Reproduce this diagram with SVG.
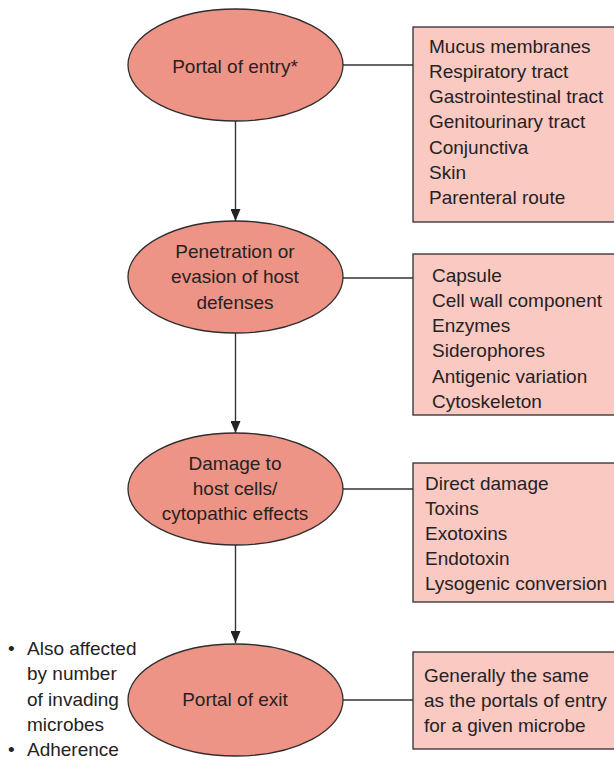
<svg xmlns="http://www.w3.org/2000/svg" width="614" height="760" viewBox="0 0 614 760">
<style>
  .ell { fill: #ee9486; stroke: #2e2e2e; stroke-width: 1.3; }
  .box { fill: #f9c9c2; stroke: #2e2e2e; stroke-width: 1.3; }
  .conn { stroke: #333; stroke-width: 1.4; fill: none; }
  text { font-family: "Liberation Sans", Arial, sans-serif; font-size: 19px; fill: #262223; }
  .c { text-anchor: middle; }
</style>
<defs>
  <marker id="arr" markerWidth="12" markerHeight="10" refX="12" refY="5" orient="auto" markerUnits="userSpaceOnUse">
    <path d="M0,0 L12,5 L0,10 Z" fill="#222"/>
  </marker>
</defs>
<rect width="614" height="760" fill="#ffffff"/>
<g id="connectors">
  <line class="conn" x1="235.5" y1="121" x2="235.5" y2="221" marker-end="url(#arr)"/>
  <line class="conn" x1="235.5" y1="333" x2="235.5" y2="433" marker-end="url(#arr)"/>
  <line class="conn" x1="235.5" y1="545" x2="235.5" y2="643" marker-end="url(#arr)"/>
  <line class="conn" x1="343" y1="65" x2="413" y2="65"/>
  <line class="conn" x1="343" y1="278" x2="413" y2="278"/>
  <line class="conn" x1="343" y1="489" x2="413" y2="489"/>
  <line class="conn" x1="343" y1="700" x2="413" y2="700"/>
</g>
<g id="portal-entry">
  <ellipse class="ell" cx="235.5" cy="65" rx="107.5" ry="56"/>
  <text class="c" x="235" y="73">Portal of entry*</text>
</g>
<g id="entry-list">
  <rect class="box" x="413" y="27" width="210" height="195"/>
  <text x="429" y="53">Mucus membranes</text>
  <text x="429" y="78">Respiratory tract</text>
  <text x="429" y="103">Gastrointestinal tract</text>
  <text x="429" y="128">Genitourinary tract</text>
  <text x="429" y="154">Conjunctiva</text>
  <text x="429" y="179">Skin</text>
  <text x="429" y="204">Parenteral route</text>
</g>
<g id="penetration">
  <ellipse class="ell" cx="235.5" cy="277" rx="107.5" ry="56"/>
  <text class="c" x="235" y="258">Penetration or</text>
  <text class="c" x="235" y="283">evasion of host</text>
  <text class="c" x="235" y="309">defenses</text>
</g>
<g id="penetration-list">
  <rect class="box" x="413" y="254" width="210" height="161"/>
  <text x="432" y="282">Capsule</text>
  <text x="432" y="307">Cell wall component</text>
  <text x="432" y="332">Enzymes</text>
  <text x="432" y="357">Siderophores</text>
  <text x="432" y="383">Antigenic variation</text>
  <text x="432" y="408">Cytoskeleton</text>
</g>
<g id="damage">
  <ellipse class="ell" cx="235.5" cy="489" rx="107.5" ry="56"/>
  <text class="c" x="235" y="470">Damage to</text>
  <text class="c" x="235" y="495">host cells/</text>
  <text class="c" x="235" y="520">cytopathic effects</text>
</g>
<g id="damage-list">
  <rect class="box" x="413" y="463" width="210" height="139"/>
  <text x="425" y="490">Direct damage</text>
  <text x="425" y="515">Toxins</text>
  <text x="425" y="540">Exotoxins</text>
  <text x="425" y="565">Endotoxin</text>
  <text x="425" y="590">Lysogenic conversion</text>
</g>
<g id="portal-exit">
  <ellipse class="ell" cx="235.5" cy="700" rx="107.5" ry="56"/>
  <text class="c" x="235" y="706">Portal of exit</text>
</g>
<g id="exit-list">
  <rect class="box" x="413" y="652" width="210" height="97"/>
  <text x="424" y="682">Generally the same</text>
  <text x="424" y="707">as the portals of entry</text>
  <text x="424" y="732">for a given microbe</text>
</g>
<g id="notes">
  <text x="8" y="655">•</text>
  <text x="27" y="655">Also affected</text>
  <text x="27" y="680">by number</text>
  <text x="27" y="706">of invading</text>
  <text x="27" y="731">microbes</text>
  <text x="8" y="756">•</text>
  <text x="27" y="756">Adherence</text>
</g>
</svg>
